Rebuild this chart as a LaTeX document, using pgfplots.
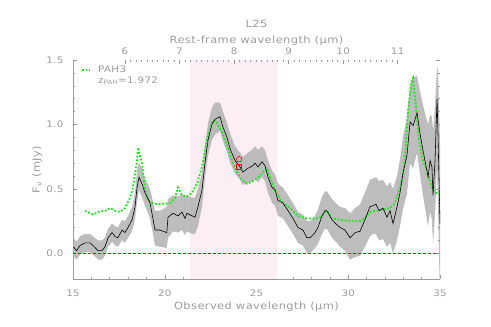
\documentclass[border=0pt]{standalone}
\usepackage{pgfplots}
\pgfplotsset{compat=1.18}
\usepackage{pgfplotstable}
\usepackage{fontspec}
\setmainfont{DejaVu Sans}[FakeStretch=1.15, LetterSpace=4]
\definecolor{axgray}{RGB}{155,155,155}
\definecolor{pinkreg}{RGB}{253,237,245}
\definecolor{bandgray}{RGB}{178,178,178}
\definecolor{pahgreen}{RGB}{25,232,25}

% observed spectrum
\pgfplotstableread{
x y
15.02 0.05
15.20 0.02
15.38 0.06
15.65 0.08
15.93 0.08
16.09 0.06
16.36 0.02
16.58 0.02
16.74 0.05
16.91 0.12
17.13 0.16
17.29 0.13
17.45 0.12
17.67 0.18
17.83 0.16
18.00 0.20
18.22 0.26
18.38 0.36
18.49 0.51
18.60 0.59
18.76 0.54
18.92 0.47
19.20 0.39
19.47 0.18
19.74 0.18
20.11 0.16
20.18 0.28
20.45 0.31
20.72 0.29
20.94 0.32
21.10 0.27
21.21 0.31
21.49 0.29
21.65 0.28
21.81 0.36
22.03 0.49
22.19 0.70
22.36 0.88
22.57 1.00
22.74 1.04
23.01 1.06
23.17 0.98
23.39 0.90
23.56 0.81
23.83 0.72
24.10 0.67
24.26 0.63
24.54 0.66
24.81 0.68
24.92 0.70
25.08 0.67
25.30 0.71
25.46 0.68
25.63 0.59
25.85 0.51
26.01 0.49
26.17 0.41
26.44 0.39
26.72 0.33
26.99 0.27
27.26 0.20
27.53 0.18
27.75 0.12
27.92 0.12
28.19 0.16
28.35 0.20
28.57 0.29
28.73 0.33
28.84 0.33
29.11 0.26
29.39 0.22
29.55 0.20
29.82 0.18
30.10 0.12
30.37 0.16
30.64 0.17
30.91 0.26
31.18 0.36
31.35 0.37
31.51 0.38
31.68 0.33
31.89 0.35
32.11 0.28
32.28 0.33
32.44 0.23
32.66 0.36
32.82 0.47
32.98 0.62
33.20 0.76
33.37 1.02
33.53 0.99
33.75 1.09
33.91 0.93
34.07 0.80
34.29 0.64
34.35 0.59
34.46 0.72
34.56 0.67
34.62 0.45
34.73 0.72
34.84 1.20
34.89 0.93
35.00 0.23
}\spec

% uncertainty band outline: upper edge left to right, then lower edge right to left
\pgfplotstableread{
x y
15.02 0.12
15.20 0.09
15.38 0.13
15.65 0.15
15.93 0.15
16.09 0.13
16.36 0.10
16.58 0.10
16.74 0.12
16.91 0.19
17.13 0.23
17.29 0.21
17.45 0.20
17.67 0.26
17.83 0.25
18.00 0.29
18.22 0.36
18.38 0.47
18.49 0.64
18.60 0.70
18.76 0.66
18.92 0.58
19.20 0.50
19.47 0.33
19.74 0.33
20.11 0.36
20.18 0.42
20.45 0.45
20.72 0.44
20.94 0.46
21.10 0.44
21.21 0.45
21.49 0.43
21.65 0.43
21.81 0.50
22.03 0.62
22.19 0.83
22.36 1.01
22.57 1.13
22.74 1.17
23.01 1.17
23.17 1.10
23.39 1.01
23.56 0.93
23.83 0.83
24.10 0.78
24.26 0.75
24.54 0.78
24.81 0.81
24.92 0.83
25.08 0.80
25.30 0.83
25.46 0.80
25.63 0.72
25.85 0.64
26.01 0.61
26.17 0.54
26.44 0.51
26.72 0.45
26.99 0.39
27.26 0.32
27.53 0.30
27.75 0.25
27.92 0.25
28.19 0.29
28.35 0.34
28.57 0.44
28.73 0.48
28.84 0.48
29.11 0.42
29.39 0.38
29.55 0.36
29.82 0.35
30.10 0.31
30.37 0.35
30.64 0.38
30.91 0.47
31.18 0.57
31.35 0.58
31.51 0.59
31.68 0.56
31.89 0.57
32.11 0.52
32.28 0.55
32.44 0.50
32.66 0.60
32.82 0.73
32.98 0.90
33.20 1.06
33.37 1.32
33.53 1.36
33.75 1.38
33.91 1.26
34.07 1.15
34.29 1.03
34.35 1.00
34.46 1.08
34.56 1.06
34.62 0.95
34.73 1.15
34.84 1.45
34.89 1.42
35.00 0.85
35.00 -0.37
34.89 0.36
34.84 0.70
34.73 0.30
34.62 0.07
34.56 0.26
34.46 0.32
34.35 0.21
34.29 0.26
34.07 0.45
33.91 0.61
33.75 0.78
33.53 0.66
33.37 0.70
33.20 0.46
32.98 0.34
32.82 0.21
32.66 0.10
32.44 0.00
32.28 0.08
32.11 0.05
31.89 0.11
31.68 0.10
31.51 0.15
31.35 0.15
31.18 0.13
30.91 0.05
30.64 -0.02
30.37 -0.03
30.10 -0.05
29.82 0.02
29.55 0.05
29.39 0.08
29.11 0.12
28.84 0.19
28.73 0.19
28.57 0.15
28.35 0.07
28.19 0.04
27.92 0.00
27.75 0.00
27.53 0.06
27.26 0.08
26.99 0.15
26.72 0.21
26.44 0.27
26.17 0.29
26.01 0.37
25.85 0.39
25.63 0.47
25.46 0.56
25.30 0.59
25.08 0.55
24.92 0.58
24.81 0.56
24.54 0.55
24.26 0.53
24.10 0.57
23.83 0.62
23.56 0.70
23.39 0.79
23.17 0.87
23.01 0.95
22.74 0.92
22.57 0.88
22.36 0.76
22.19 0.58
22.03 0.36
21.81 0.21
21.65 0.15
21.49 0.15
21.21 0.17
21.10 0.14
20.94 0.18
20.72 0.16
20.45 0.17
20.18 0.12
20.11 0.04
19.74 0.05
19.47 0.06
19.20 0.27
18.92 0.37
18.76 0.44
18.60 0.49
18.49 0.40
18.38 0.26
18.22 0.17
18.00 0.12
17.83 0.08
17.67 0.10
17.45 0.05
17.29 0.06
17.13 0.09
16.91 0.05
16.74 -0.02
16.58 -0.05
16.36 -0.05
16.09 -0.01
15.93 0.01
15.65 0.01
15.38 -0.01
15.20 -0.05
15.02 -0.02
}\band

% PAH template
\pgfplotstableread{
x y
15.65 0.33
15.93 0.31
16.09 0.30
16.36 0.32
16.74 0.33
17.02 0.35
17.29 0.33
17.56 0.32
17.83 0.35
18.11 0.43
18.27 0.51
18.49 0.72
18.54 0.82
18.76 0.70
18.92 0.51
19.09 0.41
19.31 0.39
19.63 0.38
20.29 0.39
20.56 0.43
20.72 0.51
20.94 0.45
21.21 0.44
21.49 0.47
21.76 0.54
22.03 0.67
22.30 0.88
22.57 1.02
22.74 1.03
22.90 1.00
23.12 0.94
23.39 0.84
23.66 0.72
23.94 0.63
24.21 0.57
24.48 0.54
24.81 0.56
25.19 0.60
25.35 0.63
25.57 0.66
25.74 0.59
26.01 0.49
26.39 0.40
26.83 0.35
27.26 0.29
27.75 0.27
28.30 0.27
28.57 0.29
28.84 0.33
29.11 0.27
29.55 0.26
30.10 0.25
30.64 0.25
30.91 0.27
31.18 0.32
31.57 0.33
31.89 0.34
32.28 0.35
32.55 0.39
32.71 0.46
32.93 0.57
33.09 0.72
33.26 1.11
33.47 1.34
33.53 1.36
33.69 1.13
33.86 0.88
34.07 0.72
34.29 0.64
34.56 0.51
34.73 0.47
35.00 0.46
}\pah

\begin{document}
\begin{tikzpicture}
\path (0,0) rectangle (491bp,327bp);
\begin{axis}[
  at={(73bp,48bp)}, anchor=south west,
  scale only axis, width=367bp, height=219bp,
  xmin=15, xmax=35, ymin=-0.2, ymax=1.5,
  axis x line*=bottom, axis y line*=left,
  axis line style={axgray, line width=0.6pt, -},
  tick align=inside,
  xtick={15,20,25,30,35}, minor x tick num=4,
  ytick={0,0.5,1,1.5}, minor y tick num=4,
  /pgf/number format/assume math mode=true,
  y tick label style={/pgf/number format/fixed, /pgf/number format/fixed zerofill, /pgf/number format/precision=1, xshift=-6bp},
  x tick label style={yshift=-7bp},
  tick style={axgray, line width=0.5pt},
  major tick length=4bp, minor tick length=2bp,
  ticklabel style={font=\fontsize{9}{10}\selectfont, text=axgray},
  xlabel={Observed wavelength (μm)},
  ylabel={F\textsubscript{ν} (mJy)},
  label style={font=\fontsize{10}{12}\selectfont, text=axgray},
  xlabel style={at={(axis description cs:0.5,-0.128)}, anchor=center},
  ylabel style={at={(axis description cs:-0.098,0.5)}, anchor=center},
]
\addplot[fill=pinkreg, draw=none] coordinates {(21.4,-0.2) (26.1,-0.2) (26.1,1.5) (21.4,1.5)} -- cycle;
\addplot[fill=bandgray, fill opacity=0.85, draw=none] table[x=x, y=y] {\band} -- cycle;
\addplot[red, line width=0.6pt, dash pattern=on 3bp off 2bp] coordinates {(15,0) (35,0)};
\addplot[pahgreen, line width=1.8pt, dash pattern=on 1.8pt off 1.8pt] table[x=x, y=y] {\pah};
\addplot[black, line width=0.6pt] table[x=x, y=y] {\spec};
\addplot[red, only marks, mark=pentagon, mark size=3pt, line width=0.5pt] coordinates {(24.05,0.73)};
\addplot[red, only marks, mark=square, mark size=2.5pt, line width=0.5pt] coordinates {(24.05,0.67)};
% legend key
\addplot[pahgreen, line width=1.8pt, dash pattern=on 1.8pt off 1.8pt] coordinates {(15.49,1.42) (15.95,1.42)};
\node[anchor=west, font=\fontsize{9}{10}\selectfont, text=axgray, inner sep=0pt] at (axis cs:16.36,1.425) {PAH3};
\node[anchor=west, font=\fontsize{9}{10}\selectfont, text=axgray, inner sep=0pt] at (axis cs:16.36,1.34) {z\textsubscript{PAH}=1.972};
\end{axis}
\begin{axis}[
  at={(73bp,48bp)}, anchor=south west,
  scale only axis, width=367bp, height=219bp,
  xmin=5.04711, xmax=11.77658, ymin=-0.2, ymax=1.5,
  axis x line*=top, axis y line*=right,
  axis line style={draw=none},
  tick align=inside,
  xtick={6,7,8,9,10,11}, minor x tick num=9,
  ytick={0,0.5,1,1.5}, minor y tick num=4, yticklabels={},
  /pgf/number format/assume math mode=true,
  tick style={axgray, line width=0.5pt},
  major tick length=4bp, minor tick length=2bp,
  ticklabel style={font=\fontsize{9}{10}\selectfont, text=axgray},
  x tick label style={yshift=2bp},
  xlabel={Rest-frame wavelength (μm)},
  label style={font=\fontsize{10}{12}\selectfont, text=axgray},
  xlabel style={at={(axis description cs:0.5,1.087)}, anchor=center},
  title={L25},
  title style={at={(axis description cs:0.5,1.139)}, anchor=center, font=\fontsize{10}{12}\selectfont, text=axgray},
]
\addplot[draw=none, forget plot] coordinates {(6,0) (11,0)};
\end{axis}
\end{tikzpicture}
\end{document}
